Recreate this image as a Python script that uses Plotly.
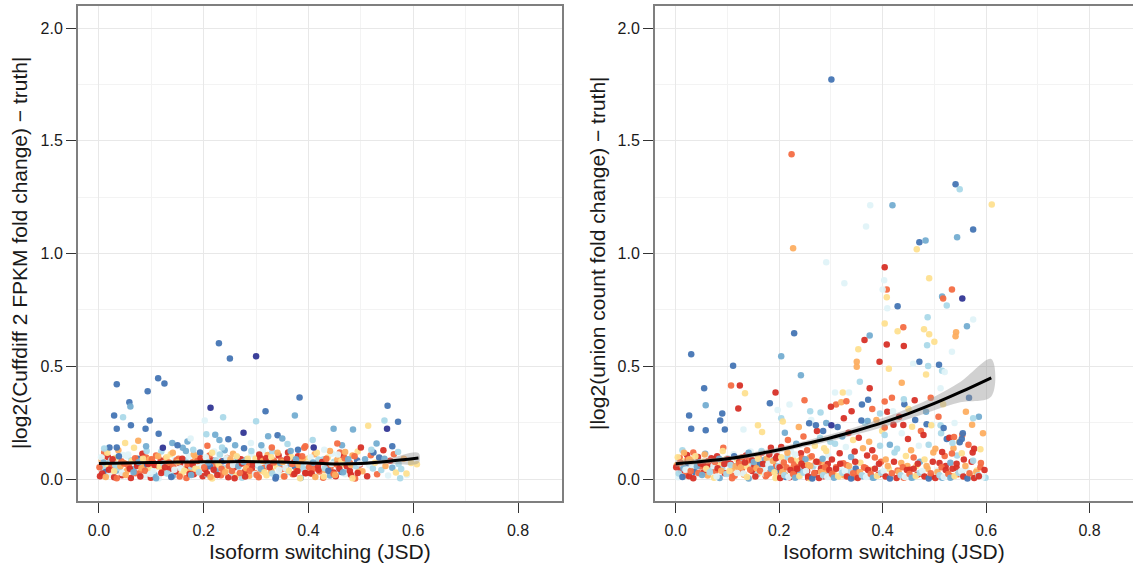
import plotly.graph_objects as go

# ---------------- palette (RdYlBu) ----------------
palette = ['#d73027', '#f46d43', '#fdae61', '#fee090', '#e0f3f8',
           '#abd9e9', '#74add1', '#4575b4', '#313695']

x_ticks = [0.0, 0.2, 0.4, 0.6, 0.8]
x_minor = [0.1, 0.3, 0.5, 0.7]
y_ticks = [0.0, 0.5, 1.0, 1.5, 2.0]
y_minor = [0.25, 0.75, 1.25, 1.75]

# ---------------- LEFT panel: Cuffdiff 2 ----------------
left_band_x = [
    0.002, 0.005, 0.008, 0.010, 0.013, 0.015, 0.017, 0.020, 0.022, 0.024,
    0.026, 0.029, 0.031, 0.034, 0.037, 0.039, 0.043, 0.044, 0.046, 0.048,
    0.053, 0.054, 0.057, 0.061, 0.062, 0.066, 0.067, 0.070, 0.073, 0.074,
    0.077, 0.080, 0.083, 0.085, 0.088, 0.090, 0.092, 0.095, 0.097, 0.099,
    0.101, 0.104, 0.106, 0.109, 0.112, 0.114, 0.118, 0.119, 0.121, 0.123,
    0.128, 0.129, 0.132, 0.136, 0.137, 0.141, 0.142, 0.145, 0.148, 0.149,
    0.152, 0.155, 0.158, 0.160, 0.163, 0.165, 0.167, 0.170, 0.172, 0.174,
    0.176, 0.179, 0.181, 0.184, 0.187, 0.189, 0.193, 0.194, 0.196, 0.198,
    0.203, 0.204, 0.207, 0.211, 0.212, 0.216, 0.217, 0.220, 0.223, 0.224,
    0.227, 0.230, 0.233, 0.235, 0.238, 0.240, 0.242, 0.245, 0.247, 0.249,
    0.251, 0.254, 0.256, 0.259, 0.262, 0.264, 0.268, 0.269, 0.271, 0.273,
    0.278, 0.279, 0.282, 0.286, 0.287, 0.291, 0.292, 0.295, 0.298, 0.299,
    0.302, 0.305, 0.308, 0.310, 0.313, 0.315, 0.317, 0.320, 0.322, 0.324,
    0.326, 0.329, 0.331, 0.334, 0.337, 0.339, 0.343, 0.344, 0.346, 0.348,
    0.353, 0.354, 0.357, 0.361, 0.362, 0.366, 0.367, 0.370, 0.373, 0.374,
    0.377, 0.380, 0.383, 0.385, 0.388, 0.390, 0.392, 0.395, 0.397, 0.399,
    0.401, 0.404, 0.406, 0.409, 0.412, 0.414, 0.418, 0.419, 0.421, 0.423,
    0.428, 0.429, 0.432, 0.436, 0.437, 0.441, 0.442, 0.445, 0.448, 0.449,
    0.452, 0.455, 0.458, 0.460, 0.463, 0.465, 0.467, 0.470, 0.472, 0.474,
    0.476, 0.479, 0.481, 0.484, 0.487, 0.489, 0.493, 0.494, 0.496, 0.498,
    0.503, 0.508, 0.512, 0.516, 0.519, 0.523,
    0.527, 0.531, 0.535, 0.539, 0.543, 0.547,
    0.552, 0.556, 0.560, 0.563, 0.567, 0.572,
    0.577, 0.582, 0.588, 0.596,
]
left_band_y = [
    0.012, 0.085, 0.047, 0.118, 0.031, 0.066, 0.098, 0.021, 0.074, 0.055,
    0.061, 0.008, 0.093, 0.038, 0.127, 0.049, 0.079, 0.017, 0.106, 0.070,
    0.035, 0.101, 0.058, 0.004, 0.083, 0.044, 0.139, 0.026, 0.068, 0.090,
    0.077, 0.029, 0.112, 0.052, 0.015, 0.095, 0.063, 0.040, 0.088, 0.006,
    0.043, 0.071, 0.019, 0.104, 0.057, 0.002, 0.082, 0.122, 0.036, 0.064,
    0.091, 0.025, 0.068, 0.046, 0.110, 0.014, 0.059, 0.087, 0.033, 0.078,
    0.090, 0.068, 0.026, 0.139, 0.044, 0.083, 0.004, 0.058, 0.101, 0.035,
    0.055, 0.074, 0.021, 0.098, 0.066, 0.031, 0.118, 0.047, 0.085, 0.012,
    0.043, 0.071, 0.019, 0.104, 0.057, 0.002, 0.082, 0.122, 0.036, 0.064,
    0.070, 0.106, 0.017, 0.079, 0.049, 0.127, 0.038, 0.093, 0.008, 0.061,
    0.077, 0.029, 0.112, 0.052, 0.015, 0.095, 0.063, 0.040, 0.088, 0.006,
    0.078, 0.033, 0.087, 0.059, 0.014, 0.110, 0.046, 0.068, 0.025, 0.091,
    0.061, 0.008, 0.093, 0.038, 0.127, 0.049, 0.079, 0.017, 0.106, 0.070,
    0.064, 0.036, 0.122, 0.082, 0.002, 0.057, 0.104, 0.019, 0.071, 0.043,
    0.012, 0.085, 0.047, 0.118, 0.031, 0.066, 0.098, 0.021, 0.074, 0.055,
    0.035, 0.101, 0.058, 0.004, 0.083, 0.044, 0.139, 0.026, 0.068, 0.090,
    0.091, 0.025, 0.068, 0.046, 0.110, 0.014, 0.059, 0.087, 0.033, 0.078,
    0.006, 0.088, 0.040, 0.063, 0.095, 0.015, 0.052, 0.112, 0.029, 0.077,
    0.012, 0.085, 0.047, 0.118, 0.031, 0.066, 0.098, 0.021, 0.074, 0.055,
    0.043, 0.071, 0.019, 0.104, 0.057, 0.002, 0.082, 0.122, 0.036, 0.064,
    0.034, 0.088, 0.012, 0.061, 0.105, 0.047,
    0.072, 0.021, 0.095, 0.040, 0.128, 0.058,
    0.015, 0.081, 0.050, 0.110, 0.029, 0.066,
    0.044, 0.090, 0.018, 0.071,
]
left_band_c = [
    0, 2, 5, 1, 7, 3, 0, 4, 6, 1,
    1, 0, 3, 6, 2, 5, 1, 0, 4, 2,
    2, 4, 1, 0, 5, 6, 3, 1, 0, 7,
    5, 1, 0, 2, 4, 1, 7, 3, 2, 0,
    3, 0, 6, 1, 2, 4, 0, 5, 1, 3,
    1, 5, 2, 0, 3, 6, 1, 4, 0, 5,
    1, 0, 3, 6, 2, 5, 1, 0, 4, 2,
    5, 1, 0, 2, 4, 1, 7, 3, 2, 0,
    0, 2, 5, 1, 7, 3, 0, 4, 6, 1,
    2, 4, 1, 0, 5, 6, 3, 1, 0, 7,
    1, 5, 2, 0, 3, 6, 1, 4, 0, 5,
    3, 0, 6, 1, 2, 4, 0, 5, 1, 3,
    5, 1, 0, 2, 4, 1, 7, 3, 2, 0,
    0, 2, 5, 1, 7, 3, 0, 4, 6, 1,
    2, 4, 1, 0, 5, 6, 3, 1, 0, 7,
    1, 0, 3, 6, 2, 5, 1, 0, 4, 2,
    3, 0, 6, 1, 2, 4, 0, 5, 1, 3,
    1, 5, 2, 0, 3, 6, 1, 4, 0, 5,
    0, 2, 5, 1, 7, 3, 0, 4, 6, 1,
    5, 1, 0, 2, 4, 1, 7, 3, 2, 0,
    2, 6, 0, 4, 1, 5,
    3, 1, 7, 5, 0, 2,
    4, 0, 6, 1, 3, 5,
    5, 2, 4, 3,
]

left_fill_x = [
    0.001, 0.004, 0.006, 0.009, 0.013, 0.016, 0.019, 0.023,
    0.026, 0.029, 0.031, 0.034, 0.038, 0.041, 0.044, 0.048,
    0.051, 0.054, 0.056, 0.059, 0.063, 0.066, 0.069, 0.073,
    0.076, 0.079, 0.081, 0.084, 0.088, 0.091, 0.094, 0.098,
    0.101, 0.104, 0.106, 0.109, 0.113, 0.116, 0.119, 0.123,
    0.126, 0.129, 0.131, 0.134, 0.138, 0.141, 0.144, 0.148,
    0.151, 0.154, 0.156, 0.159, 0.163, 0.166, 0.169, 0.173,
    0.176, 0.179, 0.181, 0.184, 0.188, 0.191, 0.194, 0.198,
    0.201, 0.204, 0.206, 0.209, 0.213, 0.216, 0.219, 0.223,
    0.226, 0.229, 0.231, 0.234, 0.238, 0.241, 0.244, 0.248,
    0.251, 0.254, 0.256, 0.259, 0.263, 0.266, 0.269, 0.273,
    0.276, 0.279, 0.281, 0.284, 0.288, 0.291, 0.294, 0.298,
    0.301, 0.304, 0.306, 0.309, 0.313, 0.316, 0.319, 0.323,
    0.326, 0.329, 0.331, 0.334, 0.338, 0.341, 0.344, 0.348,
    0.351, 0.354, 0.356, 0.359, 0.363, 0.366, 0.369, 0.373,
    0.376, 0.379, 0.381, 0.384, 0.388, 0.391, 0.394, 0.398,
    0.401, 0.404, 0.406, 0.409, 0.413, 0.416, 0.419, 0.423,
    0.426, 0.429, 0.431, 0.434, 0.438, 0.441, 0.444, 0.448,
    0.451, 0.454, 0.456, 0.459, 0.463, 0.466, 0.469, 0.473,
    0.476, 0.479, 0.481, 0.484, 0.488, 0.491, 0.494, 0.498,
]
left_fill_y = [
    0.052, 0.097, 0.024, 0.073, 0.009, 0.116, 0.041, 0.083,
    0.088, 0.035, 0.062, 0.003, 0.101, 0.056, 0.027, 0.069,
    0.018, 0.064, 0.109, 0.045, 0.080, 0.030, 0.092, 0.058,
    0.075, 0.011, 0.048, 0.090, 0.037, 0.124, 0.066, 0.022,
    0.088, 0.035, 0.062, 0.003, 0.101, 0.056, 0.027, 0.069,
    0.052, 0.097, 0.024, 0.073, 0.009, 0.116, 0.041, 0.083,
    0.075, 0.011, 0.048, 0.090, 0.037, 0.124, 0.066, 0.022,
    0.018, 0.064, 0.109, 0.045, 0.080, 0.030, 0.092, 0.058,
    0.052, 0.097, 0.024, 0.073, 0.009, 0.116, 0.041, 0.083,
    0.018, 0.064, 0.109, 0.045, 0.080, 0.030, 0.092, 0.058,
    0.088, 0.035, 0.062, 0.003, 0.101, 0.056, 0.027, 0.069,
    0.075, 0.011, 0.048, 0.090, 0.037, 0.124, 0.066, 0.022,
    0.018, 0.064, 0.109, 0.045, 0.080, 0.030, 0.092, 0.058,
    0.052, 0.097, 0.024, 0.073, 0.009, 0.116, 0.041, 0.083,
    0.075, 0.011, 0.048, 0.090, 0.037, 0.124, 0.066, 0.022,
    0.088, 0.035, 0.062, 0.003, 0.101, 0.056, 0.027, 0.069,
    0.052, 0.097, 0.024, 0.073, 0.009, 0.116, 0.041, 0.083,
    0.075, 0.011, 0.048, 0.090, 0.037, 0.124, 0.066, 0.022,
    0.018, 0.064, 0.109, 0.045, 0.080, 0.030, 0.092, 0.058,
    0.088, 0.035, 0.062, 0.003, 0.101, 0.056, 0.027, 0.069,
]
left_fill_c = [
    1, 4, 0, 6, 2, 3, 0, 5,
    0, 3, 5, 1, 7, 2, 4, 1,
    2, 1, 4, 0, 3, 6, 1, 0,
    6, 0, 2, 3, 1, 5, 0, 4,
    1, 4, 0, 6, 2, 3, 0, 5,
    0, 3, 5, 1, 7, 2, 4, 1,
    2, 1, 4, 0, 3, 6, 1, 0,
    6, 0, 2, 3, 1, 5, 0, 4,
    1, 4, 0, 6, 2, 3, 0, 5,
    0, 3, 5, 1, 7, 2, 4, 1,
    2, 1, 4, 0, 3, 6, 1, 0,
    6, 0, 2, 3, 1, 5, 0, 4,
    1, 4, 0, 6, 2, 3, 0, 5,
    0, 3, 5, 1, 7, 2, 4, 1,
    2, 1, 4, 0, 3, 6, 1, 0,
    6, 0, 2, 3, 1, 5, 0, 4,
    1, 4, 0, 6, 2, 3, 0, 5,
    0, 3, 5, 1, 7, 2, 4, 1,
    2, 1, 4, 0, 3, 6, 1, 0,
    6, 0, 2, 3, 1, 5, 0, 4,
]

left_out_x = [
    0.229, 0.25, 0.30, 0.034, 0.113, 0.125, 0.093, 0.058, 0.06, 0.029,
    0.046, 0.097, 0.034, 0.061, 0.089, 0.114, 0.213, 0.237, 0.202, 0.276,
    0.318, 0.30, 0.383, 0.374, 0.448, 0.485, 0.514, 0.551, 0.55, 0.571,
    0.545, 0.205, 0.222, 0.247, 0.341, 0.323, 0.35, 0.277, 0.122, 0.020,
    0.034, 0.169, 0.207, 0.23, 0.408, 0.394, 0.41, 0.464, 0.455, 0.5,
    0.524, 0.53, 0.571, 0.607, 0.587, 0.575, 0.56, 0.545,
    0.05, 0.075, 0.14, 0.15, 0.18, 0.26, 0.29, 0.33, 0.36, 0.43,
    0.47, 0.52, 0.01, 0.09, 0.175, 0.235, 0.38, 0.31,
]
left_out_y = [
    0.602, 0.535, 0.544, 0.42, 0.447, 0.424, 0.389, 0.34, 0.322, 0.282,
    0.274, 0.26, 0.223, 0.238, 0.223, 0.201, 0.316, 0.274, 0.26, 0.205,
    0.30, 0.256, 0.362, 0.282, 0.223, 0.219, 0.236, 0.325, 0.223, 0.254,
    0.26, 0.198, 0.196, 0.176, 0.194, 0.19, 0.18, 0.136, 0.139, 0.14,
    0.14, 0.166, 0.148, 0.173, 0.173, 0.145, 0.14, 0.15, 0.157, 0.14,
    0.118, 0.157, 0.12, 0.065, 0.024, 0.003, 0.145, 0.09,
    0.16, 0.17, 0.16, 0.15, 0.13, 0.15, 0.16, 0.14, 0.155, 0.13,
    0.12, 0.13, 0.135, 0.145, 0.18, 0.14, 0.13, 0.15,
]
left_out_c = [
    7, 7, 8, 7, 7, 7, 7, 7, 6, 7,
    5, 7, 7, 7, 7, 7, 8, 5, 4, 8,
    7, 5, 7, 6, 6, 6, 3, 7, 8, 7,
    5, 5, 6, 7, 7, 6, 6, 7, 8, 7,
    7, 6, 1, 6, 5, 1, 8, 6, 1, 0,
    7, 6, 5, 3, 3, 5, 7, 6,
    3, 2, 6, 7, 5, 6, 4, 1, 5, 4,
    2, 5, 5, 6, 4, 5, 7, 6,
]

# smooth fit
fit_x = [0.0, 0.05, 0.1, 0.15, 0.2, 0.25, 0.3, 0.35, 0.4, 0.45, 0.5, 0.55, 0.61]
left_fit_y = [0.069, 0.071, 0.073, 0.075, 0.076, 0.077, 0.077, 0.075, 0.071, 0.067, 0.069, 0.078, 0.093]
left_fit_lo = [0.063, 0.066, 0.069, 0.071, 0.072, 0.073, 0.073, 0.071, 0.067, 0.062, 0.062, 0.067, 0.071]
left_fit_hi = [0.075, 0.076, 0.077, 0.079, 0.080, 0.081, 0.081, 0.079, 0.075, 0.072, 0.076, 0.089, 0.115]

# ---------------- RIGHT panel: union count ----------------
right_band_x = [
    0.002, 0.005, 0.008, 0.010, 0.013, 0.015, 0.017, 0.020, 0.022, 0.024,
    0.026, 0.029, 0.031, 0.034, 0.037, 0.039, 0.043, 0.044, 0.046, 0.048,
    0.053, 0.054, 0.057, 0.061, 0.062, 0.066, 0.067, 0.070, 0.073, 0.074,
    0.077, 0.080, 0.083, 0.085, 0.088, 0.090, 0.092, 0.095, 0.097, 0.099,
    0.101, 0.104, 0.106, 0.109, 0.112, 0.114, 0.118, 0.119, 0.121, 0.123,
    0.128, 0.129, 0.132, 0.136, 0.137, 0.141, 0.142, 0.145, 0.148, 0.149,
    0.152, 0.155, 0.158, 0.160, 0.163, 0.165, 0.167, 0.170, 0.172, 0.174,
    0.176, 0.179, 0.181, 0.184, 0.187, 0.189, 0.193, 0.194, 0.196, 0.198,
    0.203, 0.204, 0.207, 0.211, 0.212, 0.216, 0.217, 0.220, 0.223, 0.224,
    0.227, 0.230, 0.233, 0.235, 0.238, 0.240, 0.242, 0.245, 0.247, 0.249,
    0.251, 0.254, 0.256, 0.259, 0.262, 0.264, 0.268, 0.269, 0.271, 0.273,
    0.278, 0.279, 0.282, 0.286, 0.287, 0.291, 0.292, 0.295, 0.298, 0.299,
    0.302, 0.305, 0.308, 0.310, 0.313, 0.315, 0.317, 0.320, 0.322, 0.324,
    0.326, 0.329, 0.331, 0.334, 0.337, 0.339, 0.343, 0.344, 0.346, 0.348,
    0.353, 0.354, 0.357, 0.361, 0.362, 0.366, 0.367, 0.370, 0.373, 0.374,
    0.377, 0.380, 0.383, 0.385, 0.388, 0.390, 0.392, 0.395, 0.397, 0.399,
    0.401, 0.404, 0.406, 0.409, 0.412, 0.414, 0.418, 0.419, 0.421, 0.423,
    0.428, 0.429, 0.432, 0.436, 0.437, 0.441, 0.442, 0.445, 0.448, 0.449,
    0.452, 0.455, 0.458, 0.460, 0.463, 0.465, 0.467, 0.470, 0.472, 0.474,
    0.476, 0.479, 0.481, 0.484, 0.487, 0.489, 0.493, 0.494, 0.496, 0.498,
    0.502, 0.505, 0.508, 0.510, 0.513, 0.515, 0.517, 0.520, 0.522, 0.524,
    0.526, 0.529, 0.531, 0.534, 0.537, 0.539, 0.543, 0.544, 0.546, 0.548,
    0.553, 0.554, 0.557, 0.561, 0.562, 0.566, 0.567, 0.570, 0.573, 0.574,
    0.577, 0.582, 0.586, 0.590, 0.594, 0.599,
]
right_band_y = [
    0.061, 0.008, 0.093, 0.038, 0.127, 0.049, 0.079, 0.017, 0.106, 0.070,
    0.012, 0.085, 0.047, 0.118, 0.031, 0.066, 0.098, 0.021, 0.074, 0.055,
    0.077, 0.029, 0.112, 0.052, 0.015, 0.095, 0.063, 0.040, 0.088, 0.006,
    0.035, 0.101, 0.058, 0.004, 0.083, 0.044, 0.139, 0.026, 0.068, 0.090,
    0.091, 0.025, 0.068, 0.046, 0.110, 0.014, 0.059, 0.087, 0.033, 0.078,
    0.043, 0.071, 0.019, 0.104, 0.057, 0.002, 0.082, 0.122, 0.036, 0.064,
    0.055, 0.074, 0.021, 0.098, 0.066, 0.031, 0.118, 0.047, 0.085, 0.012,
    0.090, 0.068, 0.026, 0.139, 0.044, 0.083, 0.004, 0.058, 0.101, 0.035,
    0.015, 0.142, 0.061, 0.205, 0.033, 0.098, 0.173, 0.008, 0.122, 0.047,
    0.087, 0.024, 0.156, 0.052, 0.231, 0.011, 0.114, 0.039, 0.189, 0.070,
    0.041, 0.128, 0.006, 0.095, 0.262, 0.058, 0.019, 0.147, 0.076, 0.213,
    0.029, 0.183, 0.072, 0.012, 0.136, 0.248, 0.049, 0.104, 0.021, 0.165,
    0.087, 0.024, 0.156, 0.052, 0.231, 0.011, 0.114, 0.039, 0.189, 0.070,
    0.015, 0.142, 0.061, 0.205, 0.033, 0.098, 0.173, 0.008, 0.122, 0.047,
    0.029, 0.183, 0.072, 0.012, 0.136, 0.248, 0.049, 0.104, 0.021, 0.165,
    0.041, 0.128, 0.006, 0.095, 0.262, 0.058, 0.019, 0.147, 0.076, 0.213,
    0.022, 0.195, 0.087, 0.298, 0.046, 0.152, 0.360, 0.011, 0.241, 0.118,
    0.134, 0.038, 0.276, 0.071, 0.203, 0.005, 0.332, 0.102, 0.058, 0.177,
    0.041, 0.128, 0.006, 0.095, 0.262, 0.058, 0.019, 0.147, 0.076, 0.213,
    0.022, 0.195, 0.087, 0.298, 0.046, 0.152, 0.360, 0.011, 0.241, 0.118,
    0.134, 0.038, 0.276, 0.071, 0.203, 0.005, 0.332, 0.102, 0.058, 0.177,
    0.029, 0.183, 0.072, 0.012, 0.136, 0.248, 0.049, 0.104, 0.021, 0.165,
    0.022, 0.195, 0.087, 0.298, 0.046, 0.152, 0.360, 0.011, 0.241, 0.118,
    0.134, 0.038, 0.276, 0.071, 0.203, 0.005,
]
right_band_c = [
    2, 4, 1, 0, 5, 6, 3, 1, 0, 7,
    0, 2, 5, 1, 7, 3, 0, 4, 6, 1,
    3, 0, 6, 1, 2, 4, 0, 5, 1, 3,
    1, 0, 3, 6, 2, 5, 1, 0, 4, 2,
    5, 1, 0, 2, 4, 1, 7, 3, 2, 0,
    1, 5, 2, 0, 3, 6, 1, 4, 0, 5,
    0, 2, 5, 1, 7, 3, 0, 4, 6, 1,
    2, 4, 1, 0, 5, 6, 3, 1, 0, 7,
    1, 0, 3, 6, 2, 5, 1, 0, 4, 2,
    3, 0, 6, 1, 2, 4, 0, 5, 1, 3,
    5, 1, 0, 2, 4, 1, 7, 3, 2, 0,
    1, 5, 2, 0, 3, 6, 1, 4, 0, 5,
    0, 2, 5, 1, 7, 3, 0, 4, 6, 1,
    2, 4, 1, 0, 5, 6, 3, 1, 0, 7,
    1, 0, 3, 6, 2, 5, 1, 0, 4, 2,
    3, 0, 6, 1, 2, 4, 0, 5, 1, 3,
    1, 5, 2, 0, 3, 6, 1, 4, 0, 5,
    5, 1, 0, 2, 4, 1, 7, 3, 2, 0,
    0, 2, 5, 1, 7, 3, 0, 4, 6, 1,
    1, 0, 3, 6, 2, 5, 1, 0, 4, 2,
    2, 4, 1, 0, 5, 6, 3, 1, 0, 7,
    3, 0, 6, 1, 2, 4, 0, 5, 1, 3,
    5, 1, 0, 2, 4, 1, 7, 3, 2, 0,
    0, 3, 6, 1, 2, 5,
]

right_fill_x = [
    0.001, 0.004, 0.006, 0.009, 0.013, 0.016, 0.019, 0.023,
    0.026, 0.029, 0.031, 0.034, 0.038, 0.041, 0.044, 0.048,
    0.051, 0.054, 0.056, 0.059, 0.063, 0.066, 0.069, 0.073,
    0.076, 0.079, 0.081, 0.084, 0.088, 0.091, 0.094, 0.098,
    0.101, 0.104, 0.106, 0.109, 0.113, 0.116, 0.119, 0.123,
    0.126, 0.129, 0.131, 0.134, 0.138, 0.141, 0.144, 0.148,
    0.151, 0.154, 0.156, 0.159, 0.163, 0.166, 0.169, 0.173,
    0.176, 0.179, 0.181, 0.184, 0.188, 0.191, 0.194, 0.198,
    0.201, 0.204, 0.206, 0.209, 0.213, 0.216, 0.219, 0.223,
    0.226, 0.229, 0.231, 0.234, 0.238, 0.241, 0.244, 0.248,
    0.251, 0.254, 0.256, 0.259, 0.263, 0.266, 0.269, 0.273,
    0.276, 0.279, 0.281, 0.284, 0.288, 0.291, 0.294, 0.298,
]
right_fill_y = [
    0.052, 0.097, 0.024, 0.073, 0.009, 0.116, 0.041, 0.083,
    0.088, 0.035, 0.062, 0.003, 0.101, 0.056, 0.027, 0.069,
    0.018, 0.064, 0.109, 0.045, 0.080, 0.030, 0.092, 0.058,
    0.075, 0.011, 0.048, 0.090, 0.037, 0.124, 0.066, 0.022,
    0.088, 0.035, 0.062, 0.003, 0.101, 0.056, 0.027, 0.069,
    0.052, 0.097, 0.024, 0.073, 0.009, 0.116, 0.041, 0.083,
    0.075, 0.011, 0.048, 0.090, 0.037, 0.124, 0.066, 0.022,
    0.018, 0.064, 0.109, 0.045, 0.080, 0.030, 0.092, 0.058,
    0.052, 0.097, 0.024, 0.073, 0.009, 0.116, 0.041, 0.083,
    0.018, 0.064, 0.109, 0.045, 0.080, 0.030, 0.092, 0.058,
    0.088, 0.035, 0.062, 0.003, 0.101, 0.056, 0.027, 0.069,
    0.075, 0.011, 0.048, 0.090, 0.037, 0.124, 0.066, 0.022,
]
right_fill_c = [
    0, 3, 5, 1, 7, 2, 4, 1,
    2, 1, 4, 0, 3, 6, 1, 0,
    6, 0, 2, 3, 1, 5, 0, 4,
    1, 4, 0, 6, 2, 3, 0, 5,
    0, 3, 5, 1, 7, 2, 4, 1,
    2, 1, 4, 0, 3, 6, 1, 0,
    6, 0, 2, 3, 1, 5, 0, 4,
    1, 4, 0, 6, 2, 3, 0, 5,
    0, 3, 5, 1, 7, 2, 4, 1,
    2, 1, 4, 0, 3, 6, 1, 0,
    6, 0, 2, 3, 1, 5, 0, 4,
    1, 4, 0, 6, 2, 3, 0, 5,
]

right_low_x = [
    0.202, 0.206, 0.210, 0.214, 0.218, 0.222,
    0.227, 0.231, 0.235, 0.239, 0.243, 0.247,
    0.252, 0.256, 0.260, 0.264, 0.268, 0.272,
    0.277, 0.281, 0.285, 0.289, 0.293, 0.297,
    0.302, 0.306, 0.310, 0.314, 0.318, 0.322,
    0.327, 0.331, 0.335, 0.339, 0.343, 0.347,
    0.352, 0.356, 0.360, 0.364, 0.368, 0.372,
    0.377, 0.381, 0.385, 0.389, 0.393, 0.397,
    0.402, 0.406, 0.410, 0.414, 0.418, 0.422,
    0.427, 0.431, 0.435, 0.439, 0.443, 0.447,
    0.452, 0.456, 0.460, 0.464, 0.468, 0.472,
    0.477, 0.481, 0.485, 0.489, 0.493, 0.497,
    0.502, 0.506, 0.510, 0.514, 0.518, 0.522,
    0.527, 0.531, 0.535, 0.539, 0.543, 0.547,
    0.552, 0.556, 0.560, 0.564, 0.568, 0.572,
    0.577, 0.581, 0.585, 0.589, 0.593, 0.597,
]
right_low_y = [
    0.004, 0.031, 0.017, 0.052, 0.009, 0.040,
    0.022, 0.006, 0.045, 0.013, 0.068, 0.028,
    0.036, 0.011, 0.058, 0.002, 0.025, 0.077,
    0.004, 0.031, 0.017, 0.052, 0.009, 0.040,
    0.022, 0.006, 0.045, 0.013, 0.068, 0.028,
    0.036, 0.011, 0.058, 0.002, 0.025, 0.077,
    0.004, 0.031, 0.017, 0.052, 0.009, 0.040,
    0.022, 0.006, 0.045, 0.013, 0.068, 0.028,
    0.036, 0.011, 0.058, 0.002, 0.025, 0.077,
    0.004, 0.031, 0.017, 0.052, 0.009, 0.040,
    0.022, 0.006, 0.045, 0.013, 0.068, 0.028,
    0.036, 0.011, 0.058, 0.002, 0.025, 0.077,
    0.004, 0.031, 0.017, 0.052, 0.009, 0.040,
    0.022, 0.006, 0.045, 0.013, 0.068, 0.028,
    0.036, 0.011, 0.058, 0.002, 0.025, 0.077,
    0.004, 0.031, 0.017, 0.052, 0.009, 0.040,
]
right_low_c = [
    0, 2, 5, 1, 4, 0,
    1, 6, 0, 3, 0, 5,
    4, 0, 2, 7, 1, 0,
    0, 2, 5, 1, 4, 0,
    1, 6, 0, 3, 0, 5,
    4, 0, 2, 7, 1, 0,
    0, 2, 5, 1, 4, 0,
    1, 6, 0, 3, 0, 5,
    4, 0, 2, 7, 1, 0,
    0, 2, 5, 1, 4, 0,
    1, 6, 0, 3, 0, 5,
    4, 0, 2, 7, 1, 0,
    0, 2, 5, 1, 4, 0,
    1, 6, 0, 3, 0, 5,
    4, 0, 2, 7, 1, 0,
    0, 2, 5, 1, 4, 0,
]

right_out_x = [
    0.301, 0.224, 0.541, 0.549, 0.376, 0.419, 0.611, 0.368, 0.575, 0.544,
    0.471, 0.483, 0.466, 0.227, 0.291, 0.404, 0.49, 0.326, 0.403, 0.408,
    0.40, 0.534, 0.408, 0.515, 0.517, 0.554, 0.524, 0.429, 0.409, 0.487,
    0.575, 0.404, 0.563, 0.44, 0.48, 0.429, 0.542, 0.49, 0.541, 0.229,
    0.375, 0.365, 0.408, 0.441, 0.353, 0.5, 0.486, 0.03, 0.204, 0.394,
    0.35, 0.35, 0.471, 0.488, 0.509, 0.412, 0.459, 0.515, 0.52, 0.534,
    0.111, 0.242, 0.484, 0.356, 0.437, 0.107, 0.124, 0.055, 0.134, 0.193,
    0.375, 0.308, 0.323, 0.335, 0.512, 0.058, 0.121, 0.182, 0.249, 0.404,
    0.462, 0.441, 0.372, 0.026, 0.09, 0.086, 0.197, 0.204, 0.207, 0.03,
    0.058, 0.095, 0.131, 0.167, 0.159, 0.258, 0.271, 0.285, 0.301, 0.325,
    0.359, 0.371, 0.395, 0.404, 0.44, 0.457, 0.485, 0.494, 0.512, 0.518,
    0.575, 0.555, 0.538, 0.553, 0.549, 0.589, 0.575, 0.586, 0.535, 0.515,
    0.553, 0.534, 0.31, 0.32, 0.33, 0.30, 0.28, 0.34, 0.36, 0.38,
    0.42, 0.45, 0.26, 0.22,
]
right_out_y = [
    1.772, 1.44, 1.307, 1.285, 1.214, 1.214, 1.218, 1.12, 1.107, 1.072,
    1.05, 1.058, 1.019, 1.023, 0.961, 0.939, 0.89, 0.868, 0.881, 0.841,
    0.84, 0.841, 0.806, 0.81, 0.801, 0.801, 0.77, 0.766, 0.757, 0.717,
    0.708, 0.69, 0.677, 0.673, 0.664, 0.655, 0.651, 0.642, 0.633, 0.646,
    0.637, 0.616, 0.597, 0.59, 0.575, 0.609, 0.593, 0.553, 0.544, 0.52,
    0.52, 0.498, 0.52, 0.501, 0.507, 0.489, 0.511, 0.48, 0.475, 0.564,
    0.502, 0.46, 0.464, 0.431, 0.427, 0.415, 0.415, 0.402, 0.38, 0.384,
    0.402, 0.384, 0.384, 0.384, 0.402, 0.327, 0.313, 0.336, 0.349, 0.344,
    0.349, 0.354, 0.352, 0.282, 0.291, 0.26, 0.306, 0.269, 0.255, 0.223,
    0.216, 0.22, 0.22, 0.208, 0.238, 0.247, 0.238, 0.213, 0.238, 0.269,
    0.259, 0.257, 0.291, 0.228, 0.24, 0.232, 0.243, 0.238, 0.238, 0.226,
    0.269, 0.203, 0.186, 0.177, 0.163, 0.132, 0.081, 0.012, 0.16, 0.12,
    0.114, 0.113, 0.33, 0.34, 0.345, 0.32, 0.295, 0.30, 0.33, 0.31,
    0.30, 0.31, 0.30, 0.33,
]
right_out_c = [
    7, 1, 7, 5, 4, 6, 3, 4, 7, 6,
    7, 6, 3, 2, 4, 0, 3, 4, 4, 1,
    4, 1, 3, 6, 1, 8, 5, 7, 4, 5,
    4, 3, 6, 1, 3, 3, 2, 3, 2, 7,
    6, 0, 0, 0, 3, 3, 5, 7, 6, 0,
    2, 2, 7, 5, 7, 3, 4, 5, 4, 4,
    7, 6, 3, 5, 2, 1, 0, 7, 3, 0,
    0, 4, 3, 4, 4, 6, 0, 7, 1, 1,
    0, 5, 7, 7, 7, 7, 4, 5, 3, 7,
    7, 7, 4, 3, 3, 7, 7, 7, 8, 0,
    7, 6, 5, 1, 0, 3, 7, 3, 5, 7,
    5, 7, 1, 7, 7, 3, 5, 0, 5, 0,
    3, 1, 1, 2, 1, 0, 5, 0, 7, 1,
    4, 3, 5, 4,
]

right_fit_y = [0.068, 0.078, 0.090, 0.108, 0.130, 0.156, 0.183, 0.215, 0.250, 0.290, 0.335, 0.385, 0.449]
right_fit_lo = [0.053, 0.066, 0.080, 0.097, 0.118, 0.143, 0.168, 0.198, 0.230, 0.266, 0.305, 0.340, 0.366]
right_fit_hi = [0.083, 0.090, 0.100, 0.119, 0.142, 0.169, 0.198, 0.232, 0.270, 0.314, 0.365, 0.430, 0.532]

# ---------------- build ----------------
for a, b, c in [(left_band_x, left_band_y, left_band_c), (left_fill_x, left_fill_y, left_fill_c),
                (left_out_x, left_out_y, left_out_c), (right_band_x, right_band_y, right_band_c),
                (right_fill_x, right_fill_y, right_fill_c), (right_low_x, right_low_y, right_low_c),
                (right_out_x, right_out_y, right_out_c)]:
    assert len(a) == len(b) == len(c), (len(a), len(b), len(c))

W, H = 1133, 567
FONT = "Liberation Sans, Arial, Helvetica, sans-serif"

fig = go.Figure()


def add_panel(xs, ys, cs, fy, flo, fhi, xa, ya):
    fig.add_trace(go.Scatter(
        x=xs, y=ys, mode='markers', xaxis=xa, yaxis=ya, showlegend=False,
        marker=dict(size=6.5, color=[palette[c] for c in cs], opacity=0.95, line=dict(width=0)),
        hoverinfo='skip'))
    fig.add_trace(go.Scatter(
        x=fit_x + fit_x[::-1], y=fhi + flo[::-1], mode='lines', fill='toself',
        fillcolor='rgba(153,153,153,0.45)', line=dict(width=0, shape='spline'),
        xaxis=xa, yaxis=ya, showlegend=False, hoverinfo='skip'))
    fig.add_trace(go.Scatter(
        x=fit_x, y=fy, mode='lines', line=dict(color='black', width=3, shape='spline'),
        xaxis=xa, yaxis=ya, showlegend=False, hoverinfo='skip'))


add_panel(left_band_x + left_fill_x + left_out_x,
          left_band_y + left_fill_y + left_out_y,
          left_band_c + left_fill_c + left_out_c,
          left_fit_y, left_fit_lo, left_fit_hi, 'x', 'y')
add_panel(right_band_x + right_fill_x + right_low_x + right_out_x,
          right_band_y + right_fill_y + right_low_y + right_out_y,
          right_band_c + right_fill_c + right_low_c + right_out_c,
          right_fit_y, right_fit_lo, right_fit_hi, 'x2', 'y2')

common = dict(showline=True, mirror=True, linecolor='#7f7f7f', linewidth=2,
              ticks='outside', ticklen=10, tickwidth=1, tickcolor='#333333',
              showgrid=True, gridcolor='#e8e8e8', gridwidth=1.3, zeroline=False,
              tickfont=dict(size=16, color='#1a1a1a', family=FONT), automargin=False)

xcommon = dict(common, range=[-0.04, 0.884], tickmode='array', tickvals=x_ticks,
               ticktext=['%.1f' % v for v in x_ticks], ticklabelstandoff=4,
               minor=dict(tickmode='array', tickvals=x_minor, showgrid=True,
                          gridcolor='#f3f3f3', gridwidth=1, ticks=''))
ycommon = dict(common, range=[-0.0976, 2.098], tickmode='array', tickvals=y_ticks,
               ticktext=['%.1f' % v for v in y_ticks],
               minor=dict(tickmode='array', tickvals=y_minor, showgrid=True,
                          gridcolor='#f3f3f3', gridwidth=1, ticks=''))

ydom = [(H - 501) / H, (H - 6) / H]
fig.update_layout(
    width=W, height=H, margin=dict(l=0, r=0, t=0, b=0),
    paper_bgcolor='white', plot_bgcolor='white',
    font=dict(family=FONT, color='#1a1a1a'),
    xaxis=dict(xcommon, domain=[78 / W, 562 / W], anchor='y'),
    yaxis=dict(ycommon, domain=ydom, anchor='x'),
    xaxis2=dict(xcommon, domain=[655 / W, 1.0], anchor='y2'),
    yaxis2=dict(ycommon, domain=ydom, anchor='x2'),
)

title_font = dict(size=21, color='#1a1a1a', family=FONT)
annots = [
    dict(text='Isoform switching (JSD)', x=320 / W, y=1 - 551 / H),
    dict(text='Isoform switching (JSD)', x=894 / W, y=1 - 551 / H),
    dict(text='|log2(Cuffdiff 2 FPKM fold change) \u2212 truth|', x=20 / W, y=1 - 253 / H, textangle=-90),
    dict(text='|log2(union count fold change) \u2212 truth|', x=598 / W, y=1 - 253 / H, textangle=-90),
]
for a in annots:
    fig.add_annotation(xref='paper', yref='paper', showarrow=False, xanchor='center',
                       yanchor='middle', font=title_font, **a)

fig.write_html("out.html", config={'displayModeBar': False},
               post_script="document.body.style.margin='0';document.body.style.overflow='hidden';")
